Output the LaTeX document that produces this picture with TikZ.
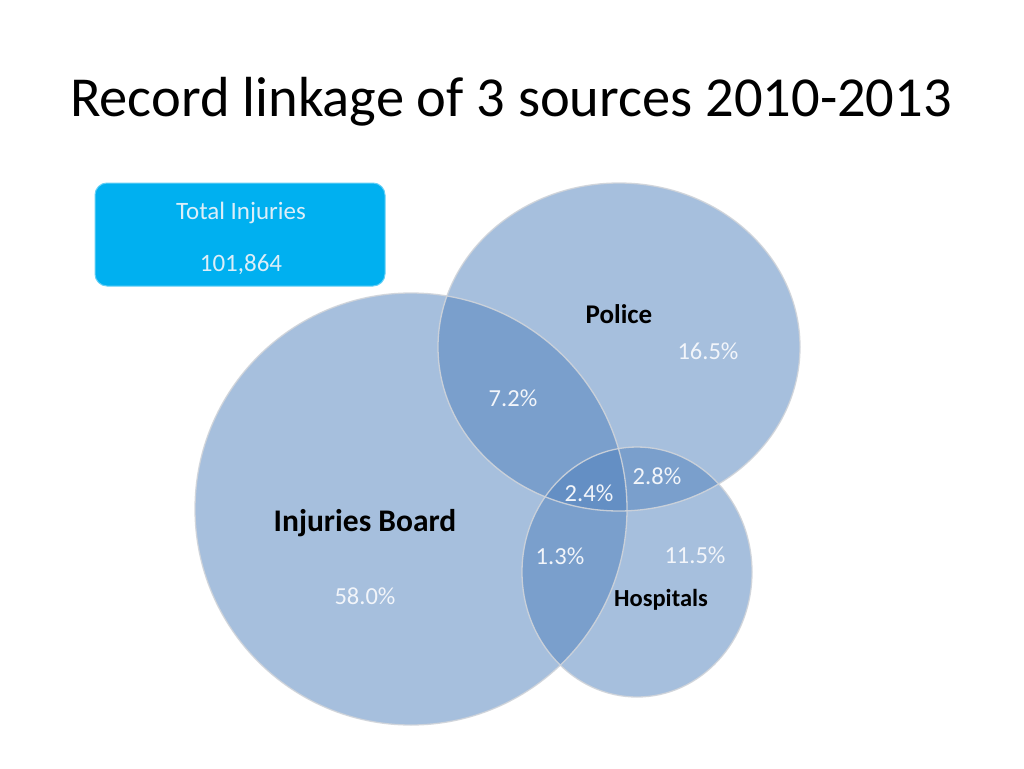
\documentclass[tikz,border=0pt]{standalone}
\usepackage{fontspec}
\setmainfont{Carlito}
\definecolor{vblue}{HTML}{4F81BD}
\definecolor{boxblue}{HTML}{00B0F0}
\definecolor{boxtext}{HTML}{DDEEF8}
\definecolor{pctext}{HTML}{F2F5FA}
\definecolor{edge}{HTML}{D0D4DA}
\begin{document}
\begin{tikzpicture}[x=1pt,y=-1pt,
  setcirc/.style={fill=vblue,fill opacity=0.5},
  setedge/.style={draw=edge,line width=1.3pt,opacity=0.9},
  setlabel/.style={font=\fontsize{27}{30}\selectfont\bfseries,text=black,inner sep=0pt},
  pct/.style={font=\fontsize{24.5}{27}\selectfont,text=pctext,inner sep=0pt},
  boxtxt/.style={font=\fontsize{25}{28}\selectfont,text=boxtext,inner sep=0pt}]
\useasboundingbox (0,0) rectangle (1024,768);
\fill[white] (0,0) rectangle (1024,768);
% title
\node[font=\fontsize{56.5}{64}\selectfont,inner sep=0pt,anchor=base] (title) at (511,116) {Record linkage of 3 sources 2010-2013};
% total box
\node[draw=boxblue!60!white,line width=1pt,fill=boxblue,rounded corners=12pt,minimum width=290pt,minimum height=103pt,inner sep=0pt] (total) at (240,234.5) {};
\node[boxtxt] (totlab) at (241,213) {Total Injuries};
\node[boxtxt] (totval) at (241,265) {101,864};
% sets
\fill[setcirc] (411,509) circle [radius=216];
\fill[setcirc] (619,347) ellipse [x radius=181, y radius=164];
\fill[setcirc] (637,572) ellipse [x radius=115, y radius=125];
\draw[setedge] (411,509) circle [radius=216];
\draw[setedge] (619,347) ellipse [x radius=181, y radius=164];
\draw[setedge] (637,572) ellipse [x radius=115, y radius=125];
% labels
\node[setlabel] (police) at (619,314) {Police};
\node[setlabel,font=\fontsize{31.5}{34}\selectfont\bfseries] (board) at (365,523) {Injuries Board};
\node[setlabel,font=\fontsize{24.5}{27}\selectfont\bfseries] (hosp) at (661,600) {Hospitals};
\node[pct] (p1) at (708,351) {16.5\%};
\node[pct] (p2) at (513,398) {7.2\%};
\node[pct] (p3) at (589,493) {2.4\%};
\node[pct] (p4) at (657,476) {2.8\%};
\node[pct] (p5) at (560,556) {1.3\%};
\node[pct] (p6) at (695,555) {11.5\%};
\node[pct] (p7) at (365,596) {58.0\%};
\end{tikzpicture}
\end{document}
